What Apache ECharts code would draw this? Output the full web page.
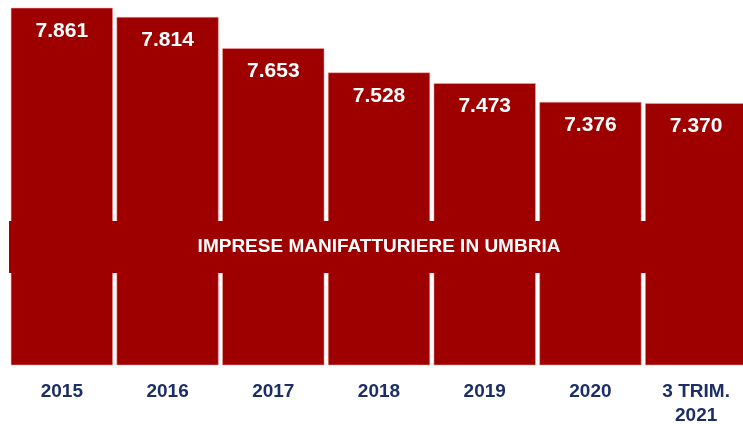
<!DOCTYPE html>
<html>
<head>
<meta charset="utf-8">
<script src="https://cdn.jsdelivr.net/npm/echarts@6/dist/echarts.min.js"></script>
<style>
  html, body { margin: 0; padding: 0; background: #ffffff; }
  #main { width: 743px; height: 424px; }
</style>
</head>
<body>
<div id="main"></div>
<script>
var categories = ['2015', '2016', '2017', '2018', '2019', '2020', '3 TRIM.\n2021'];
var imprese = [7.861, 7.814, 7.653, 7.528, 7.473, 7.376, 7.370];
var bandTitle = 'IMPRESE MANIFATTURIERE IN UMBRIA';
var bandRange = [6.494, 6.762];

var myChart = echarts.init(document.getElementById('main'));

var option = {
    backgroundColor: '#ffffff',
    animation: false,
    grid: {
        left: 9,
        top: 0,
        width: 740,
        height: 365,
        outerBoundsMode: 'none'
    },
    xAxis: {
        type: 'category',
        data: categories,
        axisLine: { show: false },
        axisTick: { show: false },
        axisLabel: {
            margin: 15,
            color: '#1b2f66',
            fontFamily: 'Liberation Sans',
            fontWeight: 'bold',
            fontSize: 19,
            lineHeight: 24,
            interval: 0
        }
    },
    yAxis: {
        type: 'value',
        min: 6.02,
        max: 7.9,
        show: false,
        splitLine: { show: false }
    },
    series: [
        {
            type: 'bar',
            data: imprese,
            barWidth: '97%',
            z: 2,
            itemStyle: {
                color: '#9e0000',
                borderColor: 'rgba(255,170,170,0.5)',
                borderWidth: 1
            },
            label: {
                show: true,
                position: 'insideTop',
                distance: 13,
                color: '#ffffff',
                fontFamily: 'Liberation Sans',
                fontWeight: 'bold',
                fontSize: 21,
                formatter: function (p) {
                    return p.value.toFixed(3);
                }
            }
        },
        {
            // fascia orizzontale con il titolo, sopra le barre
            type: 'line',
            data: [],
            z: 10,
            markArea: {
                silent: true,
                z: 10,
                itemStyle: { color: '#9e0000', opacity: 1 },
                label: {
                    show: true,
                    position: 'inside',
                    color: '#ffffff',
                    fontFamily: 'Liberation Sans',
                    fontWeight: 'bold',
                    fontSize: 19
                },
                data: [[
                    { name: bandTitle, yAxis: bandRange[1] },
                    { yAxis: bandRange[0] }
                ]]
            }
        }
    ]
};

myChart.setOption(option);
</script>
</body>
</html>
